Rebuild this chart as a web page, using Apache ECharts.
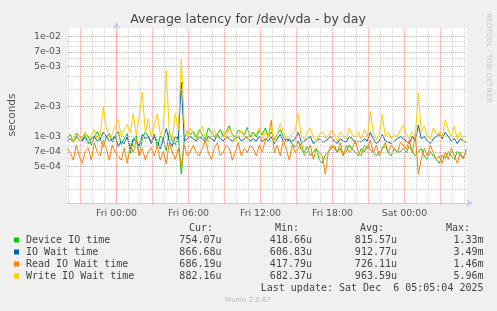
<!DOCTYPE html>
<html><head><meta charset="utf-8">
<script src="https://cdn.jsdelivr.net/npm/echarts@6/dist/echarts.min.js"></script>
<style>html,body{margin:0;padding:0;background:#F0F0F0}#c{width:497px;height:311px}</style>
</head><body><div id="c"></div>
<script>
// ---- data (values in microseconds) ----
const startHour = -4.1;      // hours relative to Fri 00:00
const stepHour = 0.25;       // 15 min samples
const seriesNames = ['Device IO time','IO Wait time','Read IO Wait time','Write IO Wait time'];
const seriesColors = ['#00CC00','#0066B3','#FF8000','#FFCC00'];
const deviceIO = [950,1050,880,1080,1000,930,1060,1000,820,1000,1120,950,780,1000,1070,
 880,1020,1120,830,960,1070,680,900,1020,640,960,1110,1000,
 880,1060,780,1010,950,720,1120,900,830,1020,420,950,1120,1050,
 1120,980,1170,1040,930,1220,1100,990,1060,1170,1000,1120,1280,1040,990,1160,1100,1040,1230,990,
 1110,990,1160,1040,1220,990,1110,940,1060,1170,990,880,950,
 840,780,900,730,690,800,640,700,760,590,540,650,710,760,
 810,690,760,640,710,820,750,690,640,760,700,810,740,690,640,700,760,810,690,640,760,700,700,
 760,690,810,700,640,700,760,640,590,710,640,590,540,650,600,710,640,590,710,650,600,754];
const ioWait = [900,950,880,1000,920,900,1000,850,950,1000,900,950,1100,1000,900,
 950,1000,800,900,850,1000,750,950,900,800,1050,950,1000,
 850,1000,900,750,950,1200,900,800,1000,950,3490,900,950,1000,
 950,900,1000,950,880,1000,950,900,1050,950,900,1000,950,900,950,1000,900,950,1000,900,
 950,900,1000,880,950,900,1000,850,950,1050,900,950,900,
 900,950,1100,880,900,950,1000,850,900,950,880,900,950,1000,
 900,850,950,900,880,1000,950,850,900,880,950,900,1100,950,850,900,1050,900,880,850,900,950,1000,
 950,900,850,1000,900,1300,950,1000,900,850,950,1000,1050,950,1100,1000,900,950,850,950,900,867];
const readIOWait = [760,690,580,820,640,540,710,770,580,870,690,640,920,760,580,
 820,690,640,580,770,540,820,690,930,640,760,580,700,
 770,640,820,580,710,530,870,700,590,760,500,820,640,700,
 820,690,640,760,920,700,590,760,870,640,700,820,760,580,700,870,640,760,690,820,
 760,640,820,700,920,1000,1460,690,820,640,920,750,580,
 820,690,760,870,640,700,820,590,760,690,640,420,700,820,
 760,690,870,640,820,690,760,920,700,640,820,750,920,690,820,640,760,870,690,820,750,690,870,
 820,750,920,690,1050,420,590,760,640,820,690,590,640,540,700,590,760,640,540,700,600,686];
const writeIOWait = [950,1020,870,1060,910,990,1120,890,1010,1180,940,1060,2000,1220,970,
 1060,1270,1480,990,1160,1320,1090,1700,1040,1600,2750,1090,1500,
 990,1270,1700,1040,1210,4600,1090,940,1700,1160,5960,1320,990,1220,
 1060,940,1110,1270,990,890,1060,1170,970,1010,1120,940,1220,1050,890,1000,1170,990,940,1110,
 1000,1060,1220,940,1110,990,1270,890,1060,1350,1100,940,1000,
 1060,1160,1700,990,940,1110,1220,990,890,1060,1110,970,1000,1160,
 1060,890,1110,1000,940,1220,1050,990,1110,940,1170,990,1780,1100,940,1060,1660,990,1110,940,1060,1000,1160,
 1300,1050,940,1110,990,2750,1100,1270,990,940,1220,1050,1110,990,1480,1160,990,1270,940,1110,890,882];
const legendCur = ['754.07u','866.68u','686.19u','882.16u'];
const legendMin = ['418.66u','606.83u','417.79u','682.37u'];
const legendAvg = ['815.57u','912.77u','726.11u','963.59u'];
const legendMax = ['1.33m','3.49m','1.46m','5.96m'];
const xLabelHours = [0,6,12,18,24];
const xLabelTexts = ['Fri 00:00','Fri 06:00','Fri 12:00','Fri 18:00','Sat 00:00'];
const yMajorValues = [1e-2,7e-3,5e-3,2e-3,1e-3,7e-4,5e-4];
const yMajorLabels = ['1e-02','7e-03','5e-03','2e-03','1e-03','7e-04','5e-04'];
const yMinorValues = [9e-3,8e-3,6e-3,4e-3,3e-3,9e-4,8e-4,6e-4,4e-4,3e-4];
const gridHours = [-4,-3,-2,-1,0,1,2,3,4,5,6,7,8,9,10,11,12,13,14,15,16,17,18,19,20,21,22,23,24,25,26,27,28,29];
const xMin = -4.125, xMax = 29.2083;
const yMin = 2.163e-4, yMax = 1.2162e-2;

// ---- build ----
const RED = '#F2A0A0', GRAY = '#D0D0D0';
const allData = [deviceIO, ioWait, readIOWait, writeIOWait];
const lineSeries = allData.map((arr, k) => ({
  type:'line', name: seriesNames[k], showSymbol:false, symbol:'none', animation:false,
  lineStyle:{width:1,color:seriesColors[k]}, itemStyle:{color:seriesColors[k]}, z:3+k,
  data: arr.map((v,i)=>[startHour + i*stepHour, v/1e6])
}));
const dot = (c) => ({color:c, type:[1,1], width:1});
const mlData = [];
gridHours.forEach(h => mlData.push({xAxis:h, lineStyle:dot((h%3===0)?RED:GRAY), label:{show:false}}));
yMinorValues.forEach(v => mlData.push({yAxis:v, lineStyle:dot(GRAY), label:{show:false}}));
yMajorValues.forEach((v,i) => mlData.push({yAxis:v, lineStyle:dot(RED),
  label:{show:true, position:'start', formatter: yMajorLabels[i], color:'#555', fontSize:9.4, fontFamily:'DejaVu Sans', distance:6}}));
const gridSeries = {type:'line', data:[], z:1, silent:true, animation:false,
  markLine:{silent:true, symbol:['none','none'], animation:false, precision:10,
    lineStyle:{type:[1,1], width:1}, emphasis:{disabled:true}, data: mlData}};

const graphics = [];
graphics.push({type:'text', x:248, y:20, style:{text:'Average latency for /dev/vda - by day', fill:'#444', font:'12.5px "DejaVu Sans"', textAlign:'center', textVerticalAlign:'middle'}});
graphics.push({type:'text', x:12, y:115, rotation:Math.PI/2, style:{text:'seconds', fill:'#555', font:'10.5px "DejaVu Sans"', textAlign:'center', textVerticalAlign:'middle'}});
graphics.push({type:'text', x:489, y:58, rotation:-Math.PI/2, style:{text:'RRDTOOL / TOBI OETIKER', fill:'#C8C8C8', font:'7px "DejaVu Sans"', textAlign:'center', textVerticalAlign:'middle'}});
const mono = '10px "DejaVu Sans Mono"';
const hdrY = 228;
[['Cur:',213],['Min:',299],['Avg:',384],['Max:',470]].forEach(([t,x]) =>
  graphics.push({type:'text', x:x, y:hdrY, style:{text:t, fill:'#444', font:mono, textAlign:'right', textVerticalAlign:'middle'}}));
seriesNames.forEach((n,k) => {
  const y = 240 + k*12;
  graphics.push({type:'rect', shape:{x:14,y:y-2.5,width:5,height:5}, style:{fill:seriesColors[k]}});
  graphics.push({type:'text', x:26, y:y, style:{text:n, fill:'#444', font:mono, textVerticalAlign:'middle'}});
  [[legendCur,221.5],[legendMin,312],[legendAvg,397],[legendMax,483.5]].forEach(([arr,x]) =>
    graphics.push({type:'text', x:x, y:y, style:{text:arr[k], fill:'#444', font:mono, textAlign:'right', textVerticalAlign:'middle'}}));
});
graphics.push({type:'text', x:483.5, y:288, style:{text:'Last update: Sat Dec  6 05:05:04 2025', fill:'#444', font:mono, textAlign:'right', textVerticalAlign:'middle'}});
graphics.push({type:'text', x:248, y:300, style:{text:'Munin 2.0.67', fill:'#BBBBBB', font:'7px "DejaVu Sans"', textAlign:'center', textVerticalAlign:'middle'}});

const chart = echarts.init(document.getElementById('c'), null, {renderer:'canvas'});
chart.setOption({
  backgroundColor:'#F0F0F0', animation:false,
  grid:{left:67, top:28, width:400, height:175, show:true, backgroundColor:'#FFFFFF', borderWidth:0},
  xAxis:{type:'value', min:xMin, max:xMax,
    axisLine:{show:true, lineStyle:{color:'#C4CCF4', width:1}, symbol:['none','arrow'], symbolSize:[6,7], symbolOffset:[0,6]},
    axisTick:{show:false}, splitLine:{show:false},
    axisLabel:{customValues:xLabelHours, color:'#555', fontSize:9.4, fontFamily:'DejaVu Sans', margin:6,
      formatter:(v)=>{const i = xLabelHours.indexOf(Math.round(v)); return i>=0?xLabelTexts[i]:'';}}},
  yAxis:{type:'log', min:yMin, max:yMax, logBase:10,
    axisLine:{show:true, lineStyle:{color:'#C4CCF4', width:1}, symbol:['none','arrow'], symbolSize:[6,7], symbolOffset:[0,6]},
    axisTick:{show:false}, splitLine:{show:false}, axisLabel:{show:false}},
  series:[gridSeries].concat(lineSeries),
  graphic: graphics
});
</script></body></html>
